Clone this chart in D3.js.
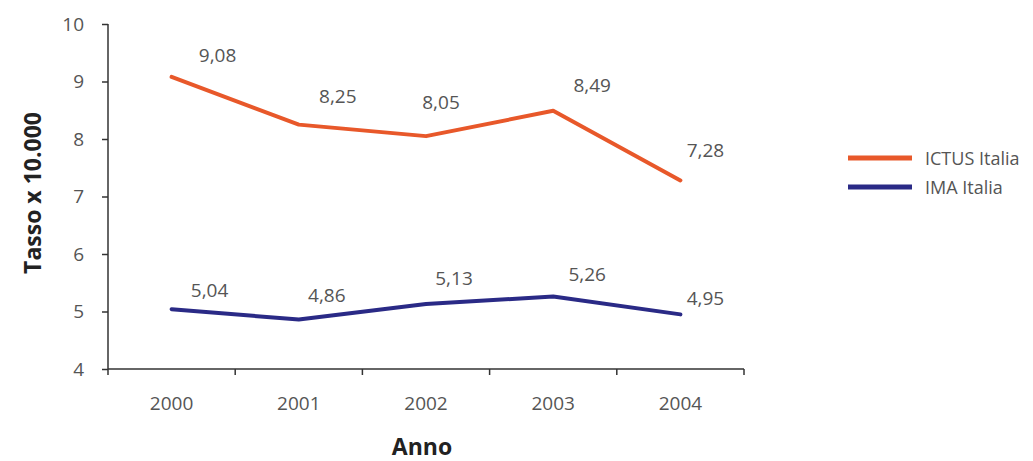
<!DOCTYPE html>
<html>
<head>
<meta charset="utf-8">
<script src="https://cdn.jsdelivr.net/npm/d3@7"></script>
<style>
  html, body { margin: 0; padding: 0; background: #ffffff; }
  svg { display: block; }
</style>
</head>
<body>
<svg id="chart" width="1033" height="461"></svg>
<script>
// ---- data ----
const years = ["2000", "2001", "2002", "2003", "2004"];
const ictusValues = [9.08, 8.25, 8.05, 8.49, 7.28];
const imaValues = [5.04, 4.86, 5.13, 5.26, 4.95];
const seriesNames = ["ICTUS Italia", "IMA Italia"];
const yTicks = [4, 5, 6, 7, 8, 9, 10];
const xTitle = "Anno";
const yTitle = "Tasso x 10.000";

// ---- layout (label offsets relative to points) ----
const ictusLabelOffsets = [[46, -22], [39, -29], [15, -34], [39, -26], [25, -30]];
const imaLabelOffsets = [[38, -19], [28, -25], [28, -26], [34, -23], [25, -16]];

const colors = ["#E8582A", "#2A2A86"];
const svg = d3.select("#chart");
const pLeft = 108, pRight = 744, pTop = 24, pBottom = 369;

const x = d3.scaleBand().domain(years).range([pLeft, pRight]);
const y = d3.scaleLinear().domain([4, 10]).range([pBottom, pTop]);
const cx = d => x(d) + x.bandwidth() / 2;

const fmt = v => d3.format(".2f")(v).replace(".", ",");

// y axis
const yAxis = svg.append("g").attr("transform", `translate(${pLeft},0)`)
  .call(d3.axisLeft(y).tickValues(yTicks).tickSize(6).tickPadding(18).tickFormat(d3.format("d")));
yAxis.select(".domain").attr("stroke", "#333").attr("stroke-width", 1.5).attr("d", `M0,${pTop}V${pBottom}`);
yAxis.selectAll(".tick line").attr("stroke", "#333").attr("stroke-width", 1.5);
yAxis.selectAll(".tick text").attr("fill", "#555").style("font-family", "'Open Sans', sans-serif").style("font-size", "19px");

// x axis
const xAxis = svg.append("g").attr("transform", `translate(0,${pBottom})`)
  .call(d3.axisBottom(x).tickSize(0).tickPadding(28));
xAxis.select(".domain").attr("stroke", "#333").attr("stroke-width", 1.5).attr("d", `M${pLeft},0H${pRight}`);
xAxis.selectAll(".tick text").attr("fill", "#555").style("font-family", "'Open Sans', sans-serif").style("font-size", "19px");
// boundary ticks
const bounds = years.map(d => x(d)).concat([pRight]);
xAxis.selectAll(".bound").data(bounds).enter().append("line")
  .attr("class", "bound")
  .attr("x1", d => d).attr("x2", d => d)
  .attr("y1", 0).attr("y2", 6)
  .attr("stroke", "#333").attr("stroke-width", 1.5);

// lines
const line = d3.line().x((d, i) => cx(years[i])).y(d => y(d));
const allSeries = [ictusValues, imaValues];
const allOffsets = [ictusLabelOffsets, imaLabelOffsets];

allSeries.forEach((vals, si) => {
  svg.append("path").datum(vals)
    .attr("d", line)
    .attr("fill", "none")
    .attr("stroke", colors[si])
    .attr("stroke-width", 4)
    .attr("stroke-linejoin", "round")
    .attr("stroke-linecap", "round");
  svg.append("g").selectAll("text").data(vals).enter().append("text")
    .attr("x", (d, i) => cx(years[i]) + allOffsets[si][i][0])
    .attr("y", (d, i) => y(d) + allOffsets[si][i][1])
    .attr("text-anchor", "middle")
    .attr("dominant-baseline", "central")
    .attr("fill", "#555")
    .style("font-family", "'Open Sans', sans-serif")
    .style("font-size", "19px")
    .text(d => fmt(d));
});

// legend
const legend = svg.append("g");
seriesNames.forEach((name, i) => {
  const ly = 158 + i * 29;
  legend.append("line")
    .attr("x1", 848).attr("x2", 912).attr("y1", ly).attr("y2", ly)
    .attr("stroke", colors[i]).attr("stroke-width", 5);
  legend.append("text")
    .attr("x", 925).attr("y", ly)
    .attr("dominant-baseline", "central")
    .attr("fill", "#555")
    .style("font-family", "'Open Sans', sans-serif")
    .style("font-size", "18px")
    .text(name);
});

// axis titles
svg.append("text")
  .attr("x", 422).attr("y", 455)
  .attr("text-anchor", "middle")
  .attr("fill", "#222")
  .style("font-family", "'Open Sans', sans-serif")
  .style("font-weight", "bold")
  .style("font-size", "23px")
  .text(xTitle);

svg.append("text")
  .attr("transform", "translate(32,193) rotate(-90)")
  .attr("text-anchor", "middle")
  .attr("dominant-baseline", "central")
  .attr("fill", "#222")
  .style("font-family", "'Open Sans', sans-serif")
  .style("font-weight", "bold")
  .style("font-size", "23px")
  .text(yTitle);
</script>
</body>
</html>
